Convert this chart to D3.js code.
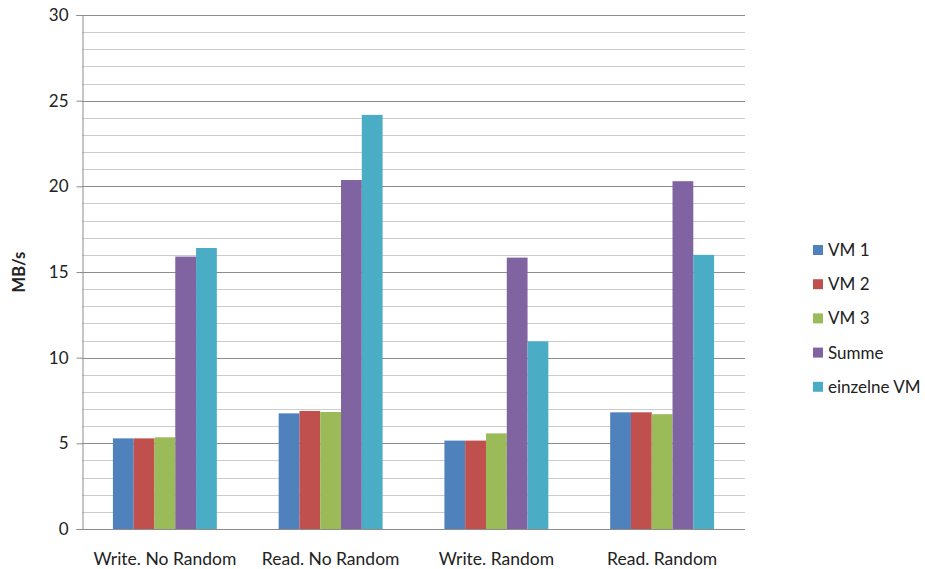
<!DOCTYPE html>
<html>
<head>
<meta charset="utf-8">
<script src="https://cdn.jsdelivr.net/npm/d3@7"></script>
<style>
  html, body { margin: 0; padding: 0; background: #fff; }
  svg { display: block; font-family: Lato, "Open Sans", sans-serif; }
</style>
</head>
<body>
<svg id="chart" width="925" height="569"></svg>
<script>
// Throughput per test scenario
const categories = ["Write. No Random", "Read. No Random", "Write. Random", "Read. Random"];
const seriesNames = ["VM 1", "VM 2", "VM 3", "Summe", "einzelne VM"];
const seriesColors = ["#4F81BD", "#C0504D", "#9BBB59", "#8064A2", "#4BACC6"];
const vm1 = [5.29, 6.75, 5.16, 6.81];
const vm2 = [5.29, 6.89, 5.16, 6.81];
const vm3 = [5.35, 6.83, 5.58, 6.70];
const summe = [15.9, 20.37, 15.84, 20.3];
const einzelne = [16.4, 24.17, 10.95, 16.0];
const yMajorTicks = [0, 5, 10, 15, 20, 25, 30];
const yMinorTicks = d3.range(0, 31, 1);

const seriesValues = [vm1, vm2, vm3, summe, einzelne];

const svg = d3.select("#chart");
const margin = { left: 82, right: 180, top: 15, bottom: 40 };
const width = 925, height = 569;
const plotRight = width - margin.right;
const plotBottom = height - margin.bottom;

const x = d3.scaleBand().domain(categories).range([margin.left, plotRight]).paddingInner(0.373).paddingOuter(0.1865);
const xs = d3.scaleBand().domain(seriesNames).range([0, x.bandwidth()]);
const y = d3.scaleLinear().domain([0, 30]).range([plotBottom, margin.top]);

// minor gridlines
svg.append("g").selectAll("line").data(yMinorTicks.filter(v => v % 5 !== 0)).join("line")
  .attr("x1", margin.left).attr("x2", plotRight)
  .attr("y1", d => Math.round(y(d)) + 0.5).attr("y2", d => Math.round(y(d)) + 0.5)
  .attr("stroke", "#cccccc").attr("stroke-width", 1);

// major gridlines
svg.append("g").selectAll("line").data(yMajorTicks.filter(v => v !== 0)).join("line")
  .attr("x1", margin.left).attr("x2", plotRight)
  .attr("y1", d => Math.round(y(d)) + 0.5).attr("y2", d => Math.round(y(d)) + 0.5)
  .attr("stroke", "#8c8c8c").attr("stroke-width", 1);

// bars
const groups = svg.append("g").selectAll("g").data(categories).join("g")
  .attr("transform", d => `translate(${x(d)},0)`);
groups.selectAll("rect")
  .data((c, ci) => seriesNames.map((s, si) => ({ s, si, v: seriesValues[si][ci] })))
  .join("rect")
  .attr("x", d => xs(d.s))
  .attr("width", xs.bandwidth())
  .attr("y", d => y(d.v))
  .attr("height", d => y(0) - y(d.v))
  .attr("fill", d => seriesColors[d.si]);

// y axis
const yAxis = d3.axisLeft(y).tickValues(yMajorTicks).tickSize(6).tickPadding(8).tickFormat(d3.format("d"));
const ya = svg.append("g").attr("transform", `translate(${margin.left + 0.5},0)`).call(yAxis);
ya.select(".domain").attr("stroke", "#8c8c8c");
ya.selectAll(".tick line").attr("stroke", "#8c8c8c");
ya.selectAll(".tick text").attr("font-size", 17).attr("fill", "#222").attr("font-family", "Lato, 'Open Sans', sans-serif");

// x axis
const xAxis = d3.axisBottom(x).tickSize(0).tickPadding(23);
const xa = svg.append("g").attr("transform", `translate(0,${Math.round(plotBottom) + 0.5})`).call(xAxis);
xa.select(".domain").attr("stroke", "#8c8c8c").attr("d", `M${margin.left},0H${plotRight}`);
xa.selectAll(".tick text").attr("font-size", 17.5).attr("fill", "#222").attr("font-family", "Lato, 'Open Sans', sans-serif");

// y axis title
svg.append("text")
  .attr("transform", `translate(25,${(margin.top + plotBottom) / 2}) rotate(-90)`)
  .attr("text-anchor", "middle")
  .attr("font-size", 16.5).attr("font-weight", "bold").attr("fill", "#222")
  .text("MB/s");

// legend
const legend = svg.append("g").attr("transform", "translate(813,250)");
const items = legend.selectAll("g").data(seriesNames).join("g")
  .attr("transform", (d, i) => `translate(0,${i * 34.2})`);
items.append("rect").attr("x", 0).attr("y", -5).attr("width", 10).attr("height", 10)
  .attr("fill", (d, i) => seriesColors[i]);
items.append("text").attr("x", 15).attr("y", 0).attr("dy", "0.35em")
  .attr("font-size", 17).attr("fill", "#222").text(d => d);
</script>
</body>
</html>
